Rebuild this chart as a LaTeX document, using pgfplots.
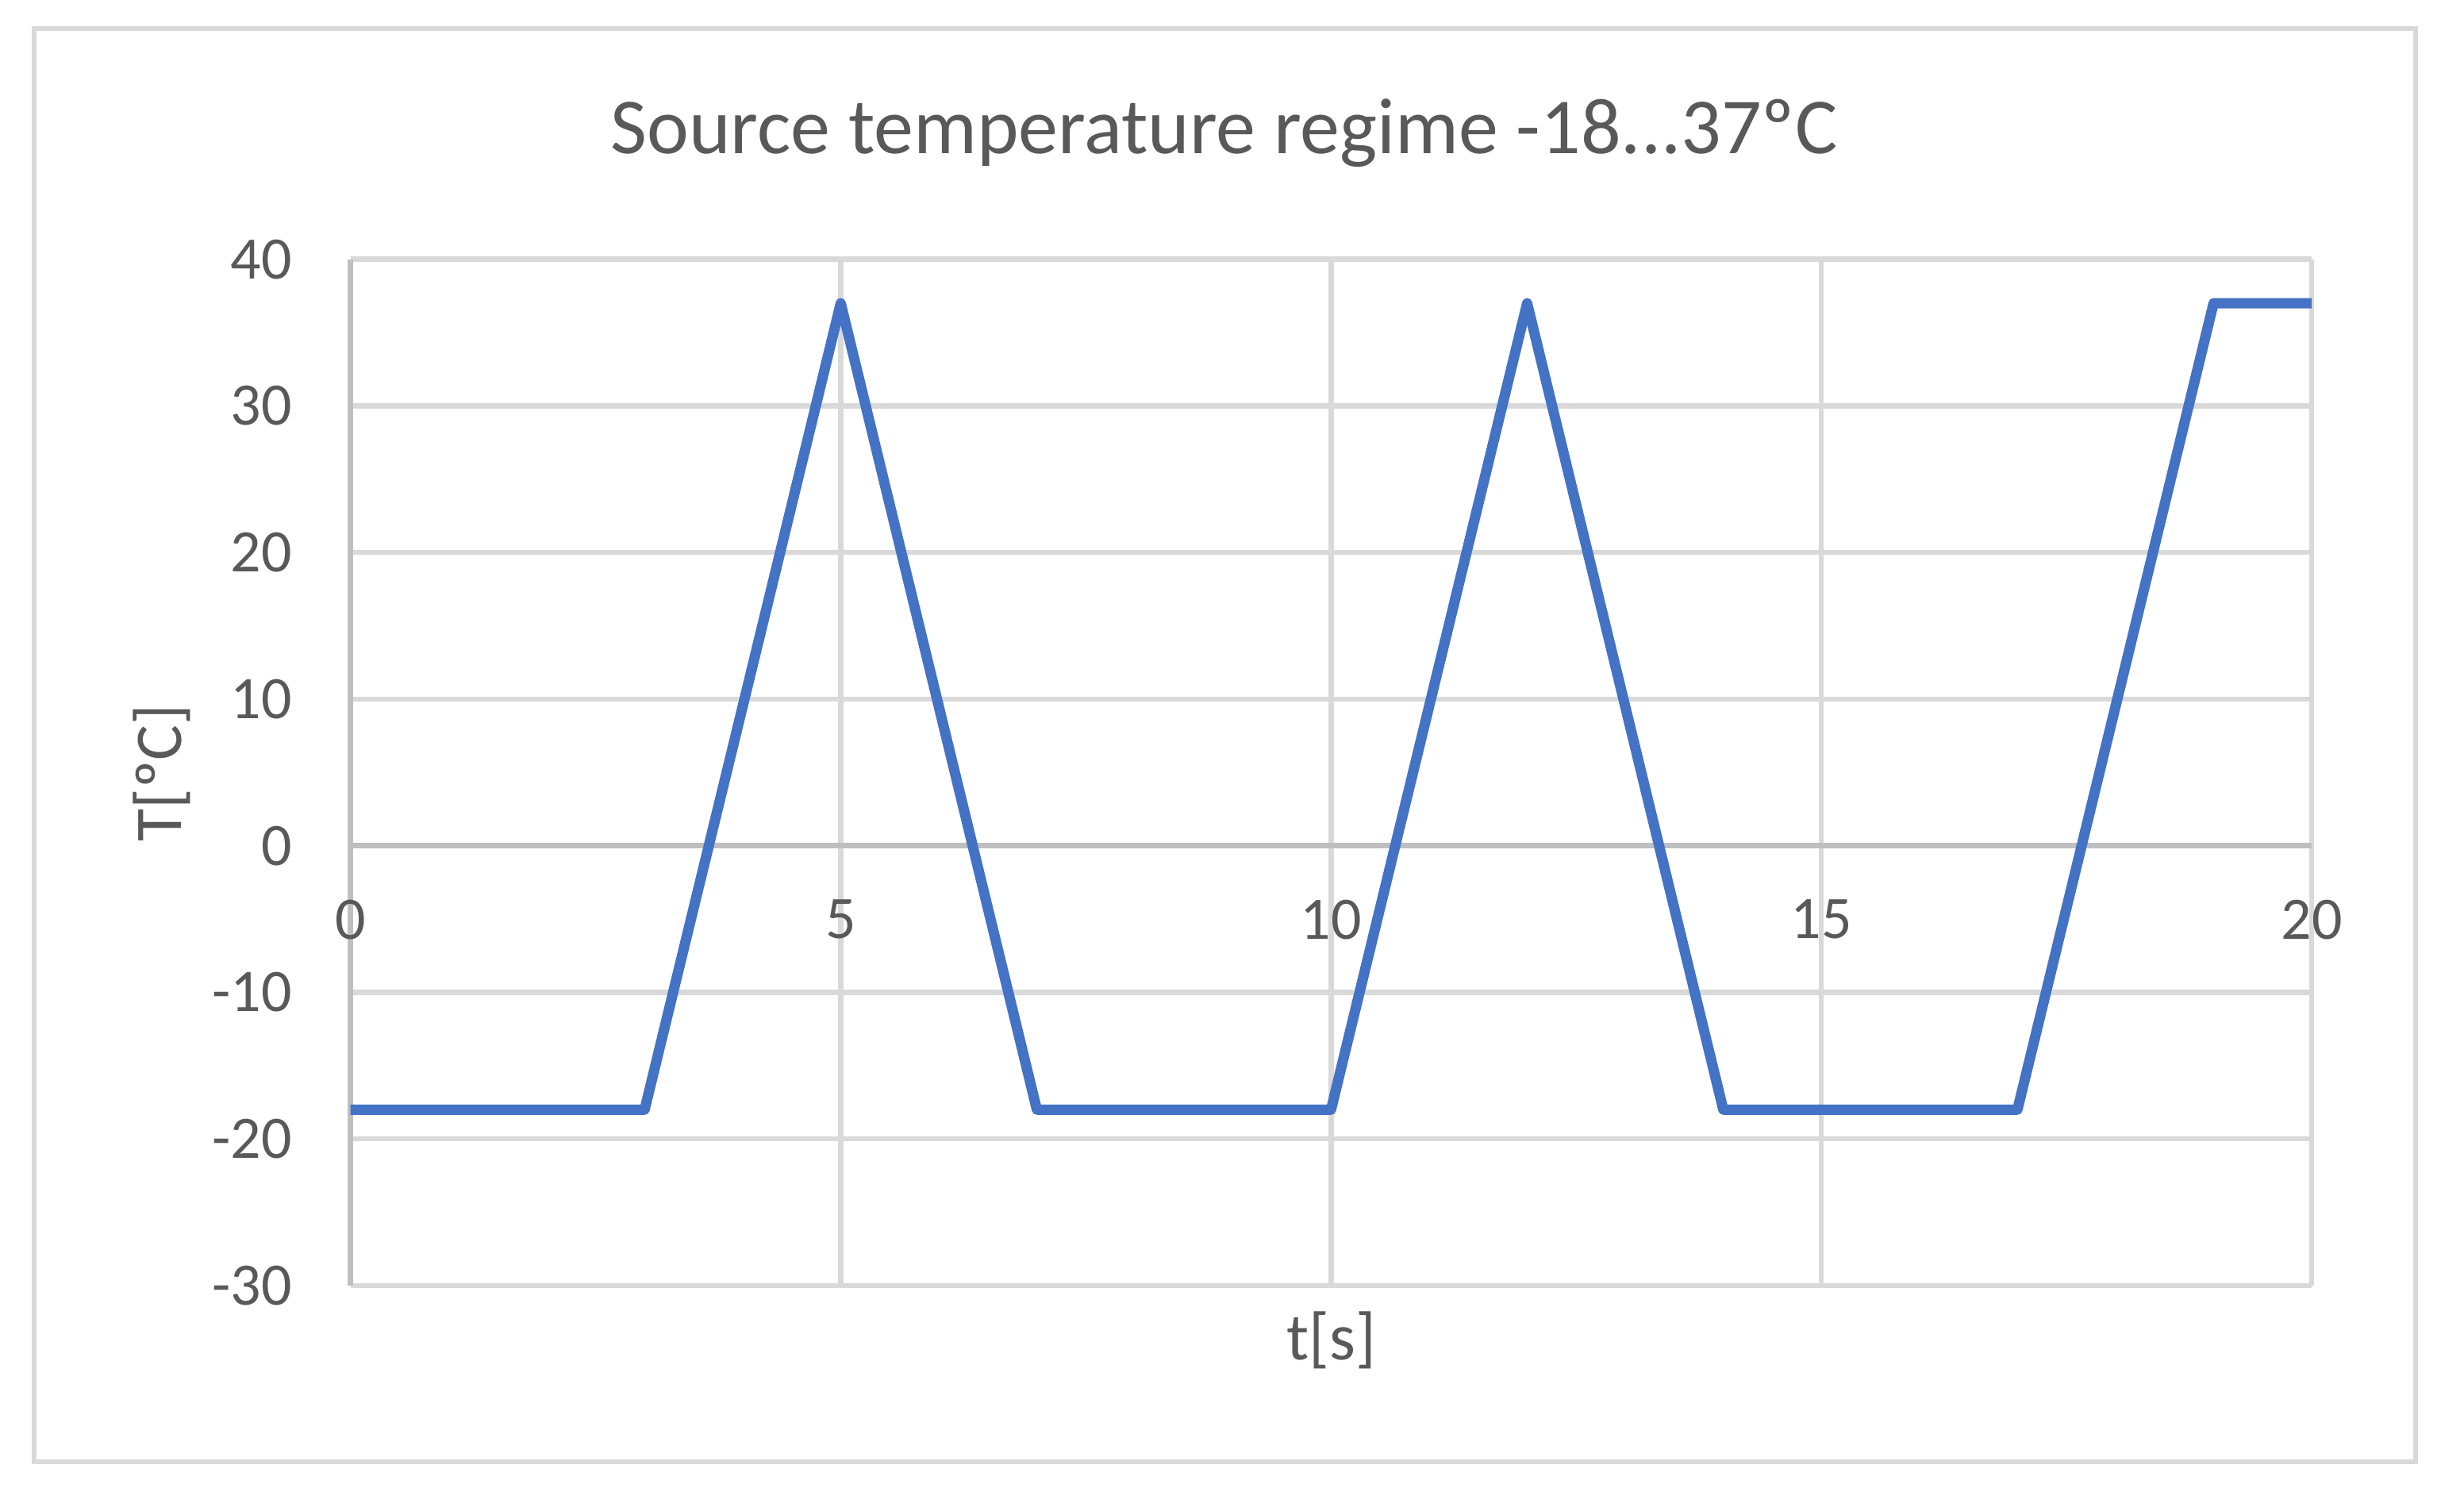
\documentclass[border=0pt]{standalone}
\usepackage{pgfplots}
\pgfplotsset{compat=1.18}
\usepackage{fontspec}
\setmainfont{Carlito}
\definecolor{txt}{HTML}{595959}
\definecolor{grd}{HTML}{D9D9D9}
\definecolor{axl}{HTML}{BFBFBF}
\definecolor{ser}{HTML}{4472C4}
\begin{document}
\begin{tikzpicture}
\path[use as bounding box] (-44.16pt,-27.9pt) rectangle (266.34pt,162pt);
\draw[grd, line width=0.65pt] (-39.86pt,-22.2pt) rectangle (260.24pt,158.4pt);
\begin{axis}[
 at={(0,0)}, anchor=south west,
 scale only axis, width=247.14pt, height=129.33pt,
 xmin=0, xmax=20, ymin=-30, ymax=40,
 xtick={0,5,10,15,20}, ytick={-30,-20,-10,0,10,20,30,40},
 xticklabels={0,5,10,15,20},
 yticklabels={-30,-20,-10,0,10,20,30,40},
 axis x line*=middle, axis y line*=left,
 hide obscured x ticks=false, hide obscured y ticks=false,
 axis line style={draw=axl, line width=0.65pt, -},
 major tick length=0pt,
 grid=major, major grid style={draw=grd, line width=0.65pt},
 tick label style={font=\fontsize{7.6}{9}\selectfont, text=txt},
 xticklabel style={anchor=center, yshift=-9.3pt},
 yticklabel style={anchor=east, inner sep=0pt, xshift=-7.2pt},
 clip=false,
]
\addplot[ser, line width=1.3pt, line join=round] coordinates {
 (0,-18) (3,-18) (5,37) (7,-18) (10,-18) (12,37) (14,-18) (17,-18) (19,37) (20,37)
};
\end{axis}
\node[text=txt, font=\fontsize{10}{12}\selectfont] at (110.1pt,145.2pt) {Source temperature regime -18...37ºC};
\node[text=txt, font=\fontsize{8.4}{10}\selectfont] at (123.6pt,-6.9pt) {t[s]};
\node[text=txt, font=\fontsize{8.4}{10}\selectfont, rotate=90] at (-23.8pt,64.6pt) {T[ºC]};
\end{tikzpicture}
\end{document}
